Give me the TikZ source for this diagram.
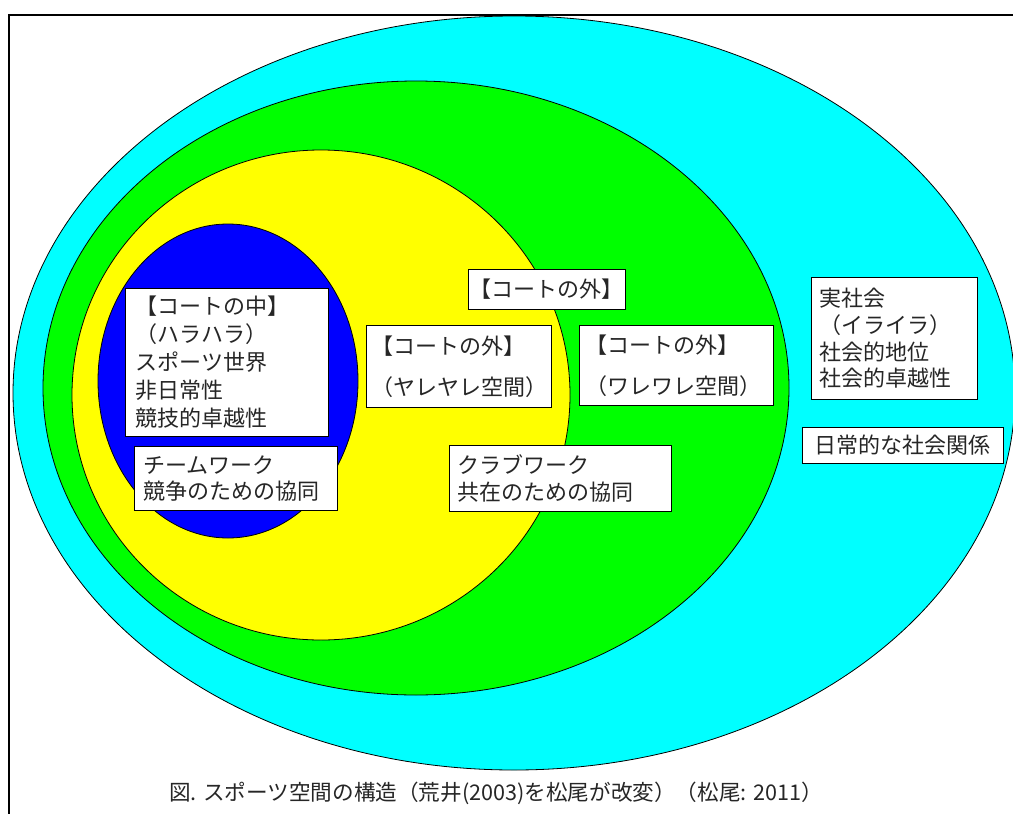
\documentclass[tikz,border=0pt]{standalone}
\usepackage{fontspec}
\newfontfamily\jp{Noto Sans CJK JP}
\definecolor{cy}{RGB}{0,255,255}
\definecolor{gr}{RGB}{0,255,0}
\definecolor{ye}{RGB}{255,255,0}
\definecolor{bl}{RGB}{0,0,255}
\tikzset{
  zone/.style={draw=black, line width=0.8pt},
  box/.style={draw=black, fill=white, line width=0.9pt, inner ysep=0pt, anchor=north west, align=left, text=black!85},
  onebox/.style={draw=black, fill=white, line width=0.9pt, inner sep=0pt, anchor=north west, text=black!85,
    font=\jp\fontsize{22}{26}\selectfont},
}
\begin{document}
\begin{tikzpicture}[x=1pt,y=-1pt]
\useasboundingbox (0,0) rectangle (1013,814);
\fill[white] (0,0) rectangle (1013,814);
% frame
\draw[line width=2pt] (9,814) -- (9,15) -- (1013,15);
% zones
\draw[zone, fill=cy] (514,393) ellipse [x radius=501pt, y radius=377pt];
\draw[zone, fill=gr] (416,388) ellipse [x radius=373pt, y radius=307pt];
\draw[zone, fill=ye] (321,395) ellipse [x radius=249pt, y radius=245pt];
\draw[zone, fill=bl] (228,381) ellipse [x radius=130pt, y radius=157pt];
% boxes
\node[box, inner xsep=10pt, text width=183pt, minimum height=148pt,
  font=\jp\fontsize{22}{28}\selectfont] (inner) at (125,288)
  {【コートの中】\\（ハラハラ）\\スポーツ世界\\非日常性\\競技的卓越性};
\node[box, inner xsep=9pt, text width=185pt, minimum height=64pt,
  font=\jp\fontsize{22}{26}\selectfont] (team) at (134,446)
  {チームワーク\\競争のための協同};
\node[onebox, minimum width=157pt, minimum height=40pt] (outtop) at (468,269) {【コートの外】};
\node[box, inner xsep=5pt, text width=175pt, minimum height=82pt,
  font=\jp\fontsize{22}{41}\selectfont] (yare) at (366,325)
  {【コートの外】\\（ヤレヤレ空間）};
\node[box, inner xsep=6pt, text width=182pt, minimum height=80pt,
  font=\jp\fontsize{22}{41}\selectfont] (ware) at (579,325)
  {【コートの外】\\（ワレワレ空間）};
\node[box, inner xsep=8pt, text width=206pt, minimum height=66pt,
  font=\jp\fontsize{22}{27}\selectfont] (club) at (449,445)
  {クラブワーク\\共在のための協同};
\node[box, inner xsep=8pt, text width=150pt, minimum height=122pt,
  font=\jp\fontsize{22}{26.7}\selectfont] (real) at (811,277)
  {実社会\\（イライラ）\\社会的地位\\社会的卓越性};
\node[onebox, minimum width=201pt, minimum height=36pt] (daily) at (802,427) {日常的な社会関係};
% caption
\node[font=\jp\fontsize{21.6}{26}\selectfont, text=black!85] (cap) at (496,793)
  {図. スポーツ空間の構造（荒井(2003)を松尾が改変）（松尾: 2011）};
\end{tikzpicture}
\end{document}
